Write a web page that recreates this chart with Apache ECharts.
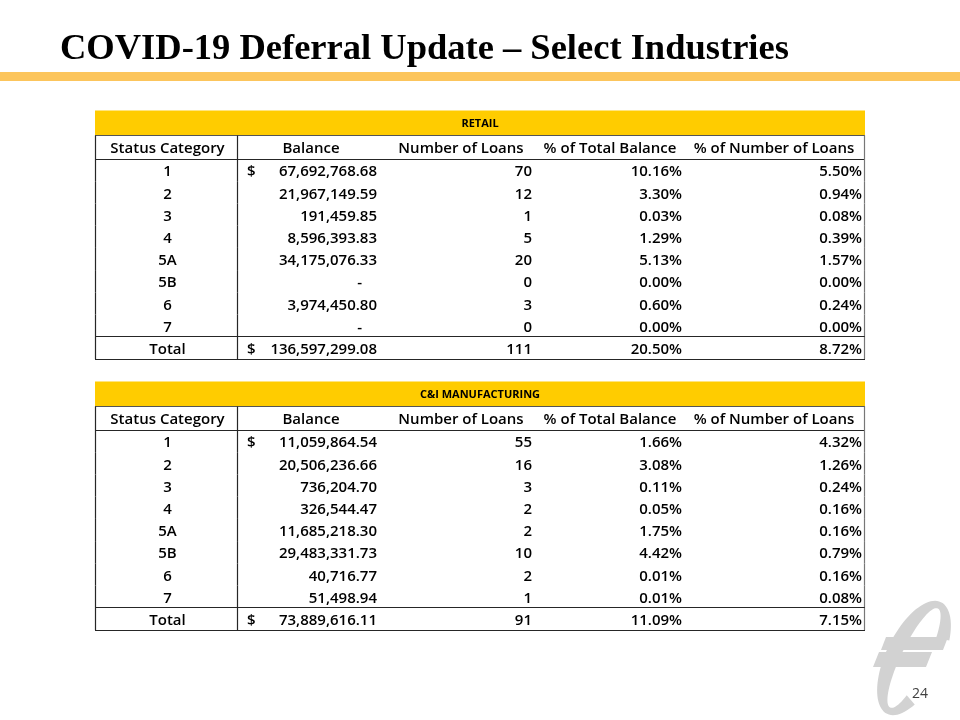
<!DOCTYPE html>
<html>
<head>
<meta charset="utf-8">
<script src="https://cdn.jsdelivr.net/npm/echarts@6/dist/echarts.min.js"></script>
<style>
html,body{margin:0;padding:0;background:#fff;}
#chart{width:960px;height:720px;}
</style>
</head>
<body>
<div id="chart"></div>
<script>
// ---------- data ----------
const slideTitle = 'COVID-19 Deferral Update – Select Industries';
const pageNumber = '24';
const columnHeaders = ['Status Category', 'Balance', 'Number of Loans', '% of Total Balance', '% of Number of Loans'];
const statusCategories = ['1', '2', '3', '4', '5A', '5B', '6', '7'];
const totalLabel = 'Total';

const retailName = 'RETAIL';
const retailBalance = [67692768.68, 21967149.59, 191459.85, 8596393.83, 34175076.33, 0, 3974450.80, 0];
const retailLoans = [70, 12, 1, 5, 20, 0, 3, 0];
const retailPctBalance = [10.16, 3.30, 0.03, 1.29, 5.13, 0.00, 0.60, 0.00];
const retailPctLoans = [5.50, 0.94, 0.08, 0.39, 1.57, 0.00, 0.24, 0.00];
const retailTotals = [136597299.08, 111, 20.50, 8.72];

const manufName = 'C&I MANUFACTURING';
const manufBalance = [11059864.54, 20506236.66, 736204.70, 326544.47, 11685218.30, 29483331.73, 40716.77, 51498.94];
const manufLoans = [55, 16, 3, 2, 2, 10, 2, 1];
const manufPctBalance = [1.66, 3.08, 0.11, 0.05, 1.75, 4.42, 0.01, 0.01];
const manufPctLoans = [4.32, 1.26, 0.24, 0.16, 0.16, 0.79, 0.16, 0.08];
const manufTotals = [73889616.11, 91, 11.09, 7.15];

// ---------- styling / layout (not data) ----------
const FONT = '550 15px "Open Sans"';
const BAND_FONT = 'bold 11px "Open Sans"';
const TABLE_W = 770;
const COL = {
  catCenter: 72.5, divider: 142.5, dollarLeft: 152, balanceRight: 282, dashRight: 267,
  loansRight: 437, pctBalRight: 587, pctLoansRight: 767,
  headerCenters: [72.5, 216, 366, 515, 679]
};
const GOLD = '#FFCC00';
const LINE = '#262626';
const LOGO = '#d2d2d2';

function fmtMoney(v) {
  return v.toLocaleString('en-US', {minimumFractionDigits: 2, maximumFractionDigits: 2});
}
function fmtPct(v) { return v.toFixed(2) + '%'; }
function crisp(v) { return Math.round(v - 0.5) + 0.5; }

function makeRenderer(t) {
  return function (params, api) {
    const i = api.value(1);
    const c = api.coord([0, i]);
    const h = api.size([0, 1])[1];
    const xAt = u => api.coord([u, i])[0];
    const L = xAt(0), R = xAt(TABLE_W);
    const top = c[1] - h / 2, bot = c[1] + h / 2;
    const kids = [];
    const n = statusCategories.length;
    const isTotal = i === n;
    const text = (s, u, align, y, font) => kids.push({
      type: 'text',
      style: {text: s, x: xAt(u), y: y, textAlign: align, textVerticalAlign: 'middle', fill: '#000', font: font || FONT}
    });
    const line = (x1, y1, x2, y2, col) => kids.push({
      type: 'line', shape: {x1: x1, y1: y1, x2: x2, y2: y2},
      style: {stroke: col || LINE, lineWidth: 1.2}
    });
    let vTop = top;
    if (i === 0) {
      const headTop = top - h * 1.06;
      const bandTop = headTop - h * 1.12;
      kids.push({type: 'rect', shape: {x: L, y: bandTop, width: R - L, height: headTop - bandTop}, style: {fill: GOLD}});
      text(t.name, TABLE_W / 2, 'center', (bandTop + headTop) / 2 + 1, BAND_FONT);
      columnHeaders.forEach((hd, k) => text(hd, COL.headerCenters[k], 'center', (headTop + top) / 2 + 1.5));
      line(L, crisp(headTop), R, crisp(headTop), '#555');
      line(L, crisp(top), R, crisp(top));
      vTop = headTop;
    }
    const cy = c[1] + 2;
    if (!isTotal) {
      text(statusCategories[i], COL.catCenter, 'center', cy);
      if (i === 0) text('$', COL.dollarLeft, 'left', cy);
      const b = t.balance[i];
      if (b === 0) text('-', COL.dashRight, 'right', cy);
      else text(fmtMoney(b), COL.balanceRight, 'right', cy);
      text(String(t.loans[i]), COL.loansRight, 'right', cy);
      text(fmtPct(t.pctBalance[i]), COL.pctBalRight, 'right', cy);
      text(fmtPct(t.pctLoans[i]), COL.pctLoansRight, 'right', cy);
    } else {
      text(totalLabel, COL.catCenter, 'center', cy);
      text('$', COL.dollarLeft, 'left', cy);
      text(fmtMoney(t.totals[0]), COL.balanceRight, 'right', cy);
      text(String(t.totals[1]), COL.loansRight, 'right', cy);
      text(fmtPct(t.totals[2]), COL.pctBalRight, 'right', cy);
      text(fmtPct(t.totals[3]), COL.pctLoansRight, 'right', cy);
      line(L, crisp(top), R, crisp(top));
      line(L, crisp(bot), R, crisp(bot));
    }
    line(crisp(L), vTop, crisp(L), bot);
    line(crisp(xAt(COL.divider)), vTop, crisp(xAt(COL.divider)), bot);
    line(crisp(R) - 1, vTop, crisp(R) - 1, bot, '#777');
    return {type: 'group', children: kids};
  };
}

const tables = [
  {name: retailName, balance: retailBalance, loans: retailLoans, pctBalance: retailPctBalance, pctLoans: retailPctLoans, totals: retailTotals, top: 159},
  {name: manufName, balance: manufBalance, loans: manufLoans, pctBalance: manufPctBalance, pctLoans: manufPctLoans, totals: manufTotals, top: 430}
];

const rowLabels = statusCategories.concat([totalLabel]);

// decorative logo: tilted open elliptical ring
function logoRing() {
  const cx = 914, cy = 658;
  const u = [0.434, -0.901], v = [0.901, 0.434];
  const pts = [];
  const pt = (a, b, deg) => {
    const r = deg * Math.PI / 180;
    const ca = a * Math.cos(r), sb = b * Math.sin(r);
    return [cx + ca * u[0] + sb * v[0], cy + ca * u[1] + sb * v[1]];
  };
  for (let d = 132; d <= 420; d += 4) pts.push(pt(62, 28, d));
  for (let d = 420; d >= 132; d -= 4) pts.push(pt(55, 13, d));
  return pts;
}

const option = {
  animation: false,
  backgroundColor: '#fff',
  grid: tables.map(t => ({left: 95, width: TABLE_W, top: t.top, height: 200, containLabel: false})),
  xAxis: tables.map((t, k) => ({type: 'value', gridIndex: k, min: 0, max: TABLE_W, show: false})),
  yAxis: tables.map((t, k) => ({type: 'category', gridIndex: k, data: rowLabels, inverse: true, show: false})),
  series: tables.map((t, k) => ({
    type: 'custom',
    xAxisIndex: k, yAxisIndex: k,
    silent: true,
    clip: false,
    renderItem: makeRenderer(t),
    data: rowLabels.map((r, i) => [0, i])
  })),
  graphic: [
    {type: 'text', x: 60, y: 50, style: {text: slideTitle, font: 'bold 36.5px "Liberation Serif"', fill: '#000', textVerticalAlign: 'middle'}},
    {type: 'rect', shape: {x: 0, y: 72, width: 960, height: 9}, style: {fill: '#FCC55C'}},
    {type: 'polygon', shape: {points: logoRing()}, style: {fill: LOGO}},
    {type: 'polygon', shape: {points: [[886, 637], [948, 637], [943, 650], [881, 650]]}, style: {fill: LOGO}},
    {type: 'polygon', shape: {points: [[879, 652], [932, 652], [926, 667], [873, 667]]}, style: {fill: LOGO}},
    {type: 'text', x: 920, y: 694, style: {text: pageNumber, font: '14px "Open Sans"', fill: '#404040', textAlign: 'center', textVerticalAlign: 'middle'}}
  ]
};

const chart = echarts.init(document.getElementById('chart'), null, {renderer: 'canvas'});
chart.setOption(option);
</script>
</body>
</html>
